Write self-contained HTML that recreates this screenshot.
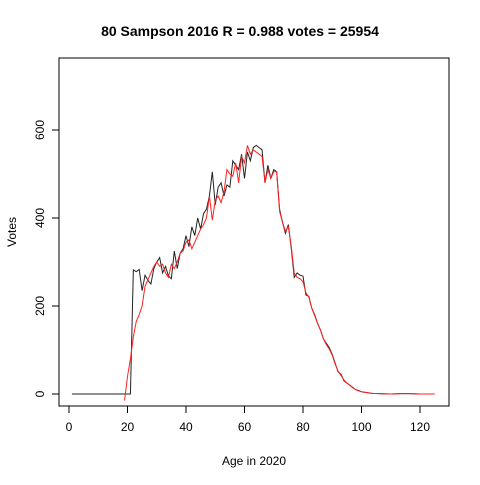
<!DOCTYPE html>
<html><head><meta charset="utf-8"><style>
body{margin:0;background:#fff}
svg{font-family:"Liberation Sans",Arial,sans-serif}
</style></head><body>
<svg id="chart" width="480" height="480"></svg>
<script>
const blackAges=[1,21,22,23,24,25,26,27,28,29,30,31,32,33,34,35,36,37,38,39,40,41,42,43,44,45,46,47,48,49,50,51,52,53,54,55,56,57,58,59,60,61,62,63,64,65,66,67,68,69,70,71,72,73,74,75,76,77,78,79,80,81,82,83,84,85,86,87,88,89,90,91,92,93,94,95,96,97,98,99,100,101,102,103,104,105,110,115,120,125];
const blackVotes=[0,0,282,278,283,235,270,258,250,285,300,310,275,290,268,262,325,285,320,330,360,335,380,360,400,375,410,420,450,505,430,470,480,450,475,470,530,520,510,545,490,550,530,560,565,560,555,480,520,490,510,505,420,390,365,385,330,265,275,270,268,225,222,195,180,160,145,125,115,105,90,70,50,45,30,25,20,15,10,8,5,4,3,2,1,1,0,1,0,0];
const redAges=[19,20,21,22,23,24,25,26,27,28,29,30,31,32,33,34,35,36,37,38,39,40,41,42,43,44,45,46,47,48,49,50,51,52,53,54,55,56,57,58,59,60,61,62,63,64,65,66,67,68,69,70,71,72,73,74,75,76,77,78,79,80,81,82,83,84,85,86,87,88,89,90,91,92,93,94,95,96,97,98,99,100,101,102,103,104,105,110,115,120,125];
const redVotes=[-15,40,80,130,165,180,200,245,260,275,290,300,290,295,275,265,295,285,300,320,325,345,350,330,345,360,375,385,400,450,395,440,450,435,460,510,500,495,525,480,540,525,565,545,555,550,545,540,480,510,490,505,505,415,390,370,380,335,275,265,262,255,230,220,195,178,160,145,125,112,102,88,68,52,42,32,25,20,14,10,7,5,4,3,2,1,1,0,1,0,0];
const xTicks=[0,20,40,60,80,100,120];
const yTicks=[0,200,400,600];
const X=a=>69+a*2.925, Y=v=>394-v*0.44;
const svg=document.getElementById('chart');const NS='http://www.w3.org/2000/svg';
function mk(t,attrs,txt){const e=document.createElementNS(NS,t);for(const k in attrs)e.setAttribute(k,attrs[k]);if(txt!==undefined)e.textContent=txt;svg.appendChild(e);return e;}
let e;
e=mk('text',{x:240,y:36,'text-anchor':'middle','font-size':14,'font-weight':'bold'},'80 Sampson 2016 R = 0.988 votes = 25954');


e=mk('rect',{x:59,y:58,width:390,height:348,fill:'none',stroke:'#000'});


e=mk('line',{x1:X(0),x2:X(120),y1:406,y2:406,stroke:'#000'});


xTicks.forEach(t=>{mk('line',{x1:X(t),x2:X(t),y1:406,y2:413,stroke:'#000'});
e=mk('text',{x:X(t),y:431,'text-anchor':'middle','font-size':12},t);

});
e=mk('line',{x1:59,x2:59,y1:Y(0),y2:Y(600),stroke:'#000'});


yTicks.forEach(t=>{mk('line',{x1:52,x2:59,y1:Y(t),y2:Y(t),stroke:'#000'});
e=mk('text',{x:44,y:Y(t),'text-anchor':'middle','font-size':12,transform:`rotate(-90 44 ${Y(t)})`},t);

});
e=mk('text',{x:254,y:465,'text-anchor':'middle','font-size':12},'Age in 2020');


e=mk('text',{x:16,y:232,'text-anchor':'middle','font-size':12,transform:'rotate(-90 16 232)'},'Votes');


e=mk('polyline',{points:blackAges.map((a,i)=>X(a)+','+Y(blackVotes[i])).join(' '),fill:'none',stroke:'#222','stroke-width':1});


e=mk('polyline',{points:redAges.map((a,i)=>X(a)+','+Y(redVotes[i])).join(' '),fill:'none',stroke:'#ff2020','stroke-width':1});


</script></body></html>
